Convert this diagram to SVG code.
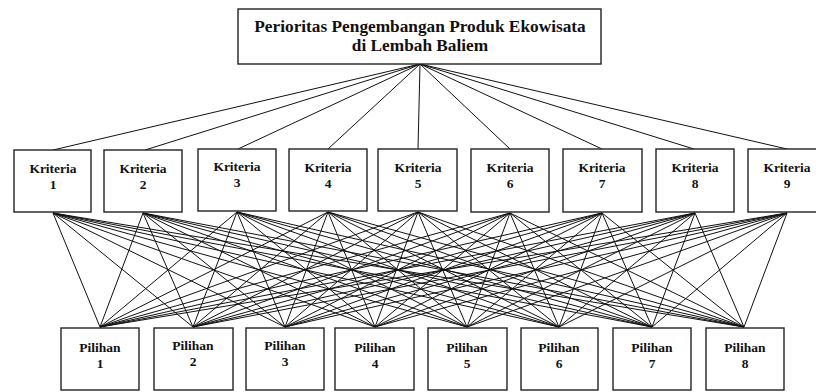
<svg xmlns="http://www.w3.org/2000/svg" width="816" height="392" viewBox="0 0 816 392">
<style>
.box{fill:#fff;stroke:#222;stroke-width:1.4}
.t{font-family:"Liberation Serif","Times New Roman",serif;font-weight:bold;fill:#111;text-anchor:middle}
.k{font-size:13.5px}
.h{font-size:17.3px}
.c line{stroke:#111;stroke-width:1}
</style>
<rect width="816" height="392" fill="#fff"/>
<g class="c" id="connectors">
<line x1="420" y1="64" x2="53" y2="150"/>
<line x1="420" y1="64" x2="145" y2="150"/>
<line x1="420" y1="64" x2="238" y2="149"/>
<line x1="420" y1="64" x2="328" y2="149"/>
<line x1="420" y1="64" x2="418" y2="149"/>
<line x1="420" y1="64" x2="510" y2="149"/>
<line x1="420" y1="64" x2="602" y2="149"/>
<line x1="420" y1="64" x2="694" y2="149"/>
<line x1="420" y1="64" x2="787" y2="149"/>
<g id="k1"><line x1="53" y1="213" x2="100" y2="327"/><line x1="53" y1="213" x2="193" y2="327"/><line x1="53" y1="213" x2="285" y2="327"/><line x1="53" y1="213" x2="375" y2="327"/><line x1="53" y1="213" x2="467" y2="327"/><line x1="53" y1="213" x2="559" y2="327"/><line x1="53" y1="213" x2="652" y2="327"/><line x1="53" y1="213" x2="744" y2="327"/></g>
<g id="k2"><line x1="143" y1="213" x2="100" y2="327"/><line x1="143" y1="213" x2="193" y2="327"/><line x1="143" y1="213" x2="285" y2="327"/><line x1="143" y1="213" x2="375" y2="327"/><line x1="143" y1="213" x2="467" y2="327"/><line x1="143" y1="213" x2="559" y2="327"/><line x1="143" y1="213" x2="652" y2="327"/><line x1="143" y1="213" x2="744" y2="327"/></g>
<g id="k3"><line x1="237" y1="212" x2="100" y2="327"/><line x1="237" y1="212" x2="193" y2="327"/><line x1="237" y1="212" x2="285" y2="327"/><line x1="237" y1="212" x2="375" y2="327"/><line x1="237" y1="212" x2="467" y2="327"/><line x1="237" y1="212" x2="559" y2="327"/><line x1="237" y1="212" x2="652" y2="327"/><line x1="237" y1="212" x2="744" y2="327"/></g>
<g id="k4"><line x1="328" y1="212" x2="100" y2="327"/><line x1="328" y1="212" x2="193" y2="327"/><line x1="328" y1="212" x2="285" y2="327"/><line x1="328" y1="212" x2="375" y2="327"/><line x1="328" y1="212" x2="467" y2="327"/><line x1="328" y1="212" x2="559" y2="327"/><line x1="328" y1="212" x2="652" y2="327"/><line x1="328" y1="212" x2="744" y2="327"/></g>
<g id="k5"><line x1="418" y1="212" x2="100" y2="327"/><line x1="418" y1="212" x2="193" y2="327"/><line x1="418" y1="212" x2="285" y2="327"/><line x1="418" y1="212" x2="375" y2="327"/><line x1="418" y1="212" x2="467" y2="327"/><line x1="418" y1="212" x2="559" y2="327"/><line x1="418" y1="212" x2="652" y2="327"/><line x1="418" y1="212" x2="744" y2="327"/></g>
<g id="k6"><line x1="510" y1="213" x2="100" y2="327"/><line x1="510" y1="213" x2="193" y2="327"/><line x1="510" y1="213" x2="285" y2="327"/><line x1="510" y1="213" x2="375" y2="327"/><line x1="510" y1="213" x2="467" y2="327"/><line x1="510" y1="213" x2="559" y2="327"/><line x1="510" y1="213" x2="652" y2="327"/><line x1="510" y1="213" x2="744" y2="327"/></g>
<g id="k7"><line x1="602" y1="213" x2="100" y2="327"/><line x1="602" y1="213" x2="193" y2="327"/><line x1="602" y1="213" x2="285" y2="327"/><line x1="602" y1="213" x2="375" y2="327"/><line x1="602" y1="213" x2="467" y2="327"/><line x1="602" y1="213" x2="559" y2="327"/><line x1="602" y1="213" x2="652" y2="327"/><line x1="602" y1="213" x2="744" y2="327"/></g>
<g id="k8"><line x1="695" y1="213" x2="100" y2="327"/><line x1="695" y1="213" x2="193" y2="327"/><line x1="695" y1="213" x2="285" y2="327"/><line x1="695" y1="213" x2="375" y2="327"/><line x1="695" y1="213" x2="467" y2="327"/><line x1="695" y1="213" x2="559" y2="327"/><line x1="695" y1="213" x2="652" y2="327"/><line x1="695" y1="213" x2="744" y2="327"/></g>
<g id="k9"><line x1="787" y1="213" x2="100" y2="327"/><line x1="787" y1="213" x2="193" y2="327"/><line x1="787" y1="213" x2="285" y2="327"/><line x1="787" y1="213" x2="375" y2="327"/><line x1="787" y1="213" x2="467" y2="327"/><line x1="787" y1="213" x2="559" y2="327"/><line x1="787" y1="213" x2="652" y2="327"/><line x1="787" y1="213" x2="744" y2="327"/></g>
</g>
<g id="goal"><rect class="box" x="238" y="9" width="363" height="55"/><text class="t h" x="420" y="32">Perioritas Pengembangan Produk Ekowisata</text><text class="t h" x="420" y="51">di Lembah Baliem</text></g>
<g id="kriteria1"><rect class="box" x="14" y="150" width="77" height="62"/><text class="t k" x="53" y="173">Kriteria</text><text class="t k" x="53" y="189">1</text></g>
<g id="kriteria2"><rect class="box" x="104" y="150" width="78" height="62"/><text class="t k" x="143" y="173">Kriteria</text><text class="t k" x="143" y="189">2</text></g>
<g id="kriteria3"><rect class="box" x="198" y="149" width="78" height="62"/><text class="t k" x="237" y="171">Kriteria</text><text class="t k" x="237" y="187">3</text></g>
<g id="kriteria4"><rect class="box" x="289" y="149" width="78" height="62"/><text class="t k" x="328" y="172">Kriteria</text><text class="t k" x="328" y="188">4</text></g>
<g id="kriteria5"><rect class="box" x="378" y="149" width="79" height="62"/><text class="t k" x="418" y="172">Kriteria</text><text class="t k" x="418" y="188">5</text></g>
<g id="kriteria6"><rect class="box" x="471" y="149" width="78" height="63"/><text class="t k" x="510" y="172">Kriteria</text><text class="t k" x="510" y="188">6</text></g>
<g id="kriteria7"><rect class="box" x="563" y="149" width="79" height="63"/><text class="t k" x="602" y="172">Kriteria</text><text class="t k" x="602" y="188">7</text></g>
<g id="kriteria8"><rect class="box" x="656" y="149" width="78" height="63"/><text class="t k" x="695" y="172">Kriteria</text><text class="t k" x="695" y="188">8</text></g>
<g id="kriteria9"><rect class="box" x="748" y="149" width="78" height="63"/><text class="t k" x="787" y="172">Kriteria</text><text class="t k" x="787" y="188">9</text></g>
<g id="pilihan1"><rect class="box" x="61" y="328" width="78" height="62"/><text class="t k" x="100" y="352">Pilihan</text><text class="t k" x="100" y="368">1</text></g>
<g id="pilihan2"><rect class="box" x="154" y="328" width="79" height="62"/><text class="t k" x="193" y="350">Pilihan</text><text class="t k" x="193" y="366">2</text></g>
<g id="pilihan3"><rect class="box" x="246" y="328" width="78" height="62"/><text class="t k" x="285" y="350">Pilihan</text><text class="t k" x="285" y="366">3</text></g>
<g id="pilihan4"><rect class="box" x="335" y="328" width="79" height="62"/><text class="t k" x="375" y="352">Pilihan</text><text class="t k" x="375" y="368">4</text></g>
<g id="pilihan5"><rect class="box" x="428" y="328" width="79" height="62"/><text class="t k" x="467" y="352">Pilihan</text><text class="t k" x="467" y="368">5</text></g>
<g id="pilihan6"><rect class="box" x="521" y="328" width="77" height="62"/><text class="t k" x="559" y="352">Pilihan</text><text class="t k" x="559" y="368">6</text></g>
<g id="pilihan7"><rect class="box" x="613" y="328" width="78" height="62"/><text class="t k" x="652" y="352">Pilihan</text><text class="t k" x="652" y="368">7</text></g>
<g id="pilihan8"><rect class="box" x="706" y="328" width="78" height="62"/><text class="t k" x="745" y="352">Pilihan</text><text class="t k" x="745" y="368">8</text></g>
</svg>
